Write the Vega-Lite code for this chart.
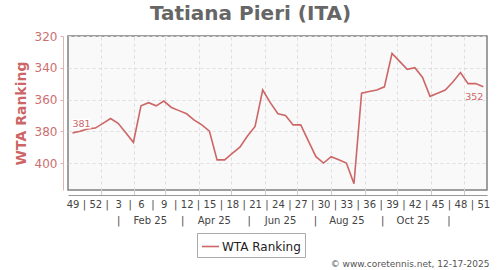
{
  "$schema": "https://vega.github.io/schema/vega-lite/v6.json",
  "width": 419,
  "height": 154,
  "autosize": {"type": "none"},
  "padding": {"left": 68, "top": 36, "right": 13, "bottom": 80},
  "background": "white",
  "title": {
    "text": "Tatiana Pieri (ITA)",
    "font": "DejaVu Sans",
    "fontSize": 20,
    "fontWeight": "bold",
    "color": "#666666",
    "anchor": "middle",
    "frame": "group",
    "dx": -27,
    "offset": 6
  },
  "config": {
    "font": "DejaVu Sans",
    "view": {"fill": "#f9f9f9", "stroke": "#808080", "strokeWidth": 1.5}
  },
  "data": {
    "values": [
      {"n": 0, "date": "2024-12-06", "rank": 381},
      {"n": 1, "date": "2024-12-13", "rank": 380},
      {"n": 2, "date": "2024-12-20", "rank": 378.5},
      {"n": 3, "date": "2024-12-27", "rank": 378},
      {"n": 4, "date": "2025-01-03", "rank": 375},
      {"n": 5, "date": "2025-01-10", "rank": 372},
      {"n": 6, "date": "2025-01-17", "rank": 375},
      {"n": 7, "date": "2025-01-24", "rank": 381},
      {"n": 8, "date": "2025-01-31", "rank": 387},
      {"n": 9, "date": "2025-02-07", "rank": 364},
      {"n": 10, "date": "2025-02-14", "rank": 362},
      {"n": 11, "date": "2025-02-21", "rank": 364},
      {"n": 12, "date": "2025-02-28", "rank": 361},
      {"n": 13, "date": "2025-03-07", "rank": 365},
      {"n": 14, "date": "2025-03-14", "rank": 367},
      {"n": 15, "date": "2025-03-21", "rank": 369},
      {"n": 16, "date": "2025-03-28", "rank": 373},
      {"n": 17, "date": "2025-04-04", "rank": 376},
      {"n": 18, "date": "2025-04-11", "rank": 380},
      {"n": 19, "date": "2025-04-18", "rank": 398},
      {"n": 20, "date": "2025-04-25", "rank": 398},
      {"n": 21, "date": "2025-05-02", "rank": 394},
      {"n": 22, "date": "2025-05-09", "rank": 390},
      {"n": 23, "date": "2025-05-16", "rank": 383},
      {"n": 24, "date": "2025-05-23", "rank": 377},
      {"n": 25, "date": "2025-05-30", "rank": 354},
      {"n": 26, "date": "2025-06-06", "rank": 362},
      {"n": 27, "date": "2025-06-13", "rank": 369},
      {"n": 28, "date": "2025-06-20", "rank": 370},
      {"n": 29, "date": "2025-06-27", "rank": 376},
      {"n": 30, "date": "2025-07-04", "rank": 376},
      {"n": 31, "date": "2025-07-11", "rank": 386},
      {"n": 32, "date": "2025-07-18", "rank": 396},
      {"n": 33, "date": "2025-07-25", "rank": 400},
      {"n": 34, "date": "2025-08-01", "rank": 396},
      {"n": 35, "date": "2025-08-08", "rank": 398},
      {"n": 36, "date": "2025-08-15", "rank": 400},
      {"n": 37, "date": "2025-08-22", "rank": 413},
      {"n": 38, "date": "2025-08-29", "rank": 356},
      {"n": 39, "date": "2025-09-05", "rank": 355},
      {"n": 40, "date": "2025-09-12", "rank": 354},
      {"n": 41, "date": "2025-09-19", "rank": 352},
      {"n": 42, "date": "2025-09-26", "rank": 331},
      {"n": 43, "date": "2025-10-03", "rank": 336},
      {"n": 44, "date": "2025-10-10", "rank": 341},
      {"n": 45, "date": "2025-10-17", "rank": 340},
      {"n": 46, "date": "2025-10-24", "rank": 346},
      {"n": 47, "date": "2025-10-31", "rank": 358},
      {"n": 48, "date": "2025-11-07", "rank": 356},
      {"n": 49, "date": "2025-11-14", "rank": 354},
      {"n": 50, "date": "2025-11-21", "rank": 349},
      {"n": 51, "date": "2025-11-28", "rank": 343},
      {"n": 52, "date": "2025-12-05", "rank": 350},
      {"n": 53, "date": "2025-12-12", "rank": 350},
      {"n": 54, "date": "2025-12-19", "rank": 352}
    ]
  },
  "encoding": {
    "y": {
      "field": "rank",
      "type": "quantitative",
      "scale": {"domain": [320, 417], "reverse": true, "nice": false, "zero": false},
      "axis": {
        "title": "WTA Ranking",
        "titleFontSize": 14,
        "titleFontWeight": "bold",
        "titleColor": "#cc6666",
        "titlePadding": 6,
        "values": [320, 340, 360, 380, 400],
        "offset": 5,
        "domainColor": "#e3b3b3",
        "domainWidth": 1,
        "tickColor": "#e3b3b3",
        "tickSize": 3,
        "labelPadding": 3,
        "labelFontSize": 12,
        "labelColor": "#cc6f6f",
        "grid": true,
        "gridColor": "#dddddd",
        "gridDash": [3, 3]
      }
    }
  },
  "layer": [
    {
      "mark": {"type": "line", "strokeWidth": 1.6},
      "encoding": {
        "x": {
          "field": "date",
          "type": "temporal",
          "scale": {
            "type": "utc",
            "domain": [
              {"year": 2024, "month": 12, "date": 1, "hours": 20, "utc": true},
              {"year": 2025, "month": 12, "date": 22, "hours": 10, "utc": true}
            ]
          },
          "axis": {
            "orient": "bottom",
            "title": null,
            "values": [
              {"year": 2025, "month": 1, "date": 1, "utc": true},
              {"year": 2025, "month": 2, "date": 1, "utc": true},
              {"year": 2025, "month": 3, "date": 1, "utc": true},
              {"year": 2025, "month": 4, "date": 1, "utc": true},
              {"year": 2025, "month": 5, "date": 1, "utc": true},
              {"year": 2025, "month": 6, "date": 1, "utc": true},
              {"year": 2025, "month": 7, "date": 1, "utc": true},
              {"year": 2025, "month": 8, "date": 1, "utc": true},
              {"year": 2025, "month": 9, "date": 1, "utc": true},
              {"year": 2025, "month": 10, "date": 1, "utc": true},
              {"year": 2025, "month": 11, "date": 1, "utc": true},
              {"year": 2025, "month": 12, "date": 1, "utc": true}
            ],
            "grid": true,
            "gridColor": "#dddddd",
            "gridDash": [3, 3],
            "labels": false,
            "ticks": true,
            "tickSize": 5,
            "tickColor": "#cccccc",
            "domain": false,
            "offset": 0
          }
        },
        "color": {
          "datum": "WTA Ranking",
          "scale": {"range": ["#cd6666"]},
          "legend": {
            "orient": "none",
            "legendX": 129,
            "legendY": 197,
            "title": null,
            "symbolType": "stroke",
            "symbolSize": 289,
            "symbolStrokeWidth": 1.6,
            "labelFontSize": 12,
            "labelColor": "#222222",
            "labelOffset": 2,
            "padding": 4,
            "strokeColor": "#aaaaaa",
            "fillColor": "white"
          }
        }
      }
    },
    {
      "transform": [{"filter": "datum.n == 0"}],
      "mark": {"type": "text", "align": "left", "baseline": "bottom", "dy": -4, "fontSize": 9.5, "fill": "white", "stroke": "white", "strokeWidth": 3},
      "encoding": {
        "x": {
          "field": "date",
          "type": "temporal",
          "axis": {
            "orient": "bottom",
            "title": null,
            "values": [1733443200000, 1734350400000, 1735257600000, 1736164800000, 1737072000000, 1737979200000, 1738886400000, 1739793600000, 1740700800000, 1741608000000, 1742515200000, 1743422400000, 1744329600000, 1745236800000, 1746144000000, 1747051200000, 1747958400000, 1748865600000, 1749772800000, 1750680000000, 1751587200000, 1752494400000, 1753401600000, 1754308800000, 1755216000000, 1756123200000, 1757030400000, 1757937600000, 1758844800000, 1759752000000, 1760659200000, 1761566400000, 1762473600000, 1763380800000, 1764288000000, 1765195200000, 1766102400000],
            "labelExpr": "round((datum.value - 1733443200000) / 907200000) % 2 == 0 ? '' + toNumber(utcFormat(datum.value, '%V')) : '|'",
            "grid": false,
            "ticks": false,
            "domain": true,
            "domainColor": "#999999",
            "domainWidth": 1,
            "offset": 5,
            "labelPadding": 4,
            "labelFontSize": 10,
            "labelColor": "#444444",
            "labelOverlap": false,
            "labelBound": false,
            "labelFlush": false
          }
        },
        "text": {"field": "rank", "type": "quantitative"}
      }
    },
    {
      "transform": [{"filter": "datum.n == 0"}],
      "mark": {"type": "text", "align": "left", "baseline": "bottom", "dy": -4, "fontSize": 9.5, "fill": "#cc6666"},
      "encoding": {
        "x": {
          "field": "date",
          "type": "temporal",
          "axis": {
            "orient": "bottom",
            "values": [
              {"year": 2025, "month": 1, "date": 17, "utc": true},
              {"year": 2025, "month": 2, "date": 15, "utc": true},
              {"year": 2025, "month": 3, "date": 17, "utc": true},
              {"year": 2025, "month": 4, "date": 15, "utc": true},
              {"year": 2025, "month": 5, "date": 17, "utc": true},
              {"year": 2025, "month": 6, "date": 15, "utc": true},
              {"year": 2025, "month": 7, "date": 17, "utc": true},
              {"year": 2025, "month": 8, "date": 15, "utc": true},
              {"year": 2025, "month": 9, "date": 17, "utc": true},
              {"year": 2025, "month": 10, "date": 15, "utc": true},
              {"year": 2025, "month": 11, "date": 17, "utc": true}
            ],
            "labelExpr": "utcdate(datum.value) == 15 ? utcFormat(datum.value, '%b %y') : '|'",
            "grid": false,
            "ticks": false,
            "domain": false,
            "offset": 5,
            "labelPadding": 20,
            "labelFontSize": 10,
            "labelColor": "#444444",
            "labelOverlap": false,
            "labelBound": false,
            "labelFlush": false,
            "title": "© www.coretennis.net, 12-17-2025",
            "titleFontSize": 9,
            "titleFontWeight": "normal",
            "titleColor": "#555555",
            "titleX": 421,
            "titleY": 71,
            "titleAlign": "right",
            "titleBaseline": "alphabetic",
            "titleAnchor": "end"
          }
        },
        "text": {"field": "rank", "type": "quantitative"}
      }
    },
    {
      "transform": [{"filter": "datum.n == 54"}],
      "mark": {"type": "text", "align": "right", "baseline": "top", "dy": 5, "fontSize": 9.5, "fill": "#cc6666"},
      "encoding": {
        "x": {"field": "date", "type": "temporal", "axis": null},
        "text": {"field": "rank", "type": "quantitative"}
      }
    }
  ],
  "resolve": {"axis": {"x": "independent"}}
}
